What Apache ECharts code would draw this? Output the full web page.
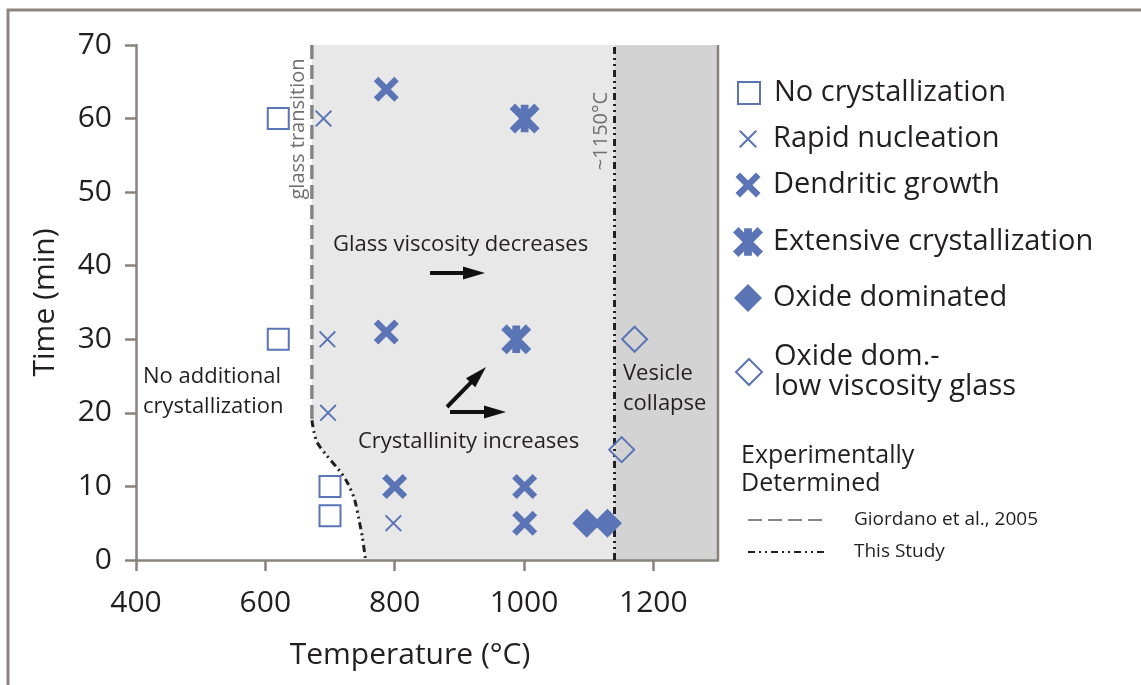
<!DOCTYPE html>
<html><head><meta charset="utf-8">
<script src="https://cdn.jsdelivr.net/npm/echarts@6/dist/echarts.min.js"></script>
<style>html,body{margin:0;padding:0;background:#fff}#c{width:1141px;height:685px}</style>
</head><body><div id="c"></div>
<script>
// ---- data ----
const xTicks = [400, 600, 800, 1000, 1200];
const noCrystallization = [[620, 60], [620, 30], [700, 10], [700, 6]];
const rapidNucleation = [[690, 60], [696, 30], [697, 20], [798, 5]];
const dendriticGrowth = [[787, 64], [787, 31], [800, 10], [1001, 10], [1001, 5]];
const extensiveCrystallization = [[1001, 60], [988, 30]];
const oxideDominated = [[1097, 5], [1129, 5]];
const oxideLowViscosity = [[1171, 30], [1151, 15]];
const giordanoLine = [[672, 70], [672, 19]];
const thisStudyCurve = [[672, 19], [675, 17.5], [680, 16], [694, 14.3], [714, 12.2], [727, 10.5], [738, 8.2], [745, 5.4], [750, 3.1], [755, 0]];
const thisStudyVertical = [[1140, 0], [1140, 70]];
const tempMin = 400, tempMax = 1300, timeMin = 0, timeMax = 70;

// ---- styles ----
const FONT = '"Open Sans", "Noto Sans", sans-serif';
const TXT = '#231f20';
const AX = '#8a837c';
const BLUE = '#5b74b6';
const squareSym = 'path://M0,0L100,0L100,100L0,100Z';
const diamondSym = 'path://M50,0L100,50L50,100L0,50Z';
const thinX = 'path://M8,0L50,42L92,0L100,8L58,50L100,92L92,100L50,58L8,100L0,92L42,50L0,8Z';
const thickX = 'path://M18,0L50,32L82,0L100,18L68,50L100,82L82,100L50,68L18,100L0,82L32,50L0,18Z';
const starX = 'path://M18,0L50,32L82,0L100,18L68,50L100,82L82,100L50,68L18,100L0,82L32,50L0,18Z M37,4L63,4L63,96L37,96Z';

const chart = echarts.init(document.getElementById('c'));

function shading(params, api) {
  const pts = [];
  pts.push(api.coord([giordanoLine[0][0], timeMax]));
  pts.push(api.coord([thisStudyVertical[0][0], timeMax]));
  pts.push(api.coord([thisStudyVertical[0][0], timeMin]));
  for (let i = thisStudyCurve.length - 1; i >= 0; i--) pts.push(api.coord(thisStudyCurve[i]));
  const a = api.coord([thisStudyVertical[0][0], timeMin]);
  const b = api.coord([tempMax, timeMax]);
  return {
    type: 'group',
    children: [
      { type: 'polygon', shape: { points: pts }, style: { fill: '#e8e8e8' } },
      { type: 'rect', shape: { x: a[0], y: b[1], width: b[0] - a[0], height: a[1] - b[1] }, style: { fill: '#d3d3d3' } },
      { type: 'line', shape: { x1: b[0], y1: b[1], x2: b[0], y2: a[1] }, style: { stroke: AX, lineWidth: 2.5 } }
    ]
  };
}

function scatter(name, data, symbol, size, filled) {
  return {
    name, type: 'scatter', data, symbol, symbolSize: size, symbolKeepAspect: true, z: 5,
    itemStyle: filled ? { color: BLUE, opacity: 1 } : { color: 'transparent', borderColor: BLUE, borderWidth: 2, opacity: 1 },
    emphasis: { disabled: true }
  };
}

// icon centre at x=748, text starting at x=773
function symLegend(name, top, h) {
  return {
    data: [name], left: 748 - h / 2, top, orient: 'vertical', padding: 0,
    itemWidth: h, itemHeight: h, selectedMode: false,
    textStyle: { fontSize: 29, color: TXT, fontFamily: FONT, lineHeight: 30, padding: [0, 0, 0, 20 - h / 2] }
  };
}

function arrow(x1, y1, x2, y2) {
  const dx = x2 - x1, dy = y2 - y1, L = Math.hypot(dx, dy);
  const ux = dx / L, uy = dy / L, nx = -uy, ny = ux;
  const hl = 22, hw = 6.5;
  const bx = x2 - ux * hl, by = y2 - uy * hl;
  return [
    { type: 'line', z: 100, shape: { x1, y1, x2: bx + ux * 2, y2: by + uy * 2 }, style: { stroke: '#111', lineWidth: 4 } },
    { type: 'polygon', z: 100, shape: { points: [[x2, y2], [bx + nx * hw, by + ny * hw], [bx - nx * hw, by - ny * hw]] }, style: { fill: '#111' } }
  ];
}

function txt(text, x, y, opts) {
  return Object.assign({
    type: 'text', x, y, z: 100,
    style: { text, font: '22px ' + FONT, fill: TXT, textAlign: 'left', textVerticalAlign: 'middle', lineHeight: 30 }
  }, opts || {});
}

const option = {
  animation: false,
  backgroundColor: '#fff',
  textStyle: { fontFamily: FONT },
  grid: { left: 136, right: 423, top: 45, bottom: 125, containLabel: false },
  xAxis: {
    type: 'value', min: tempMin, max: tempMax, interval: 200,
    name: 'Temperature (°C)', nameLocation: 'middle', nameGap: 80,
    nameTextStyle: { fontSize: 30, color: TXT, fontFamily: FONT, padding: [0, 34, 0, 0] },
    axisLine: { show: true, lineStyle: { color: AX, width: 2.5 } },
    axisTick: { show: true, length: 11, lineStyle: { color: AX, width: 2.5 }, customValues: xTicks },
    axisLabel: { fontSize: 30, color: TXT, margin: 28, fontFamily: FONT, customValues: xTicks, formatter: v => String(v) },
    splitLine: { show: false }
  },
  yAxis: {
    type: 'value', min: timeMin, max: timeMax, interval: 10,
    name: 'Time (min)', nameLocation: 'middle', nameGap: 76,
    nameTextStyle: { fontSize: 30, color: TXT, fontFamily: FONT },
    axisLine: { show: true, lineStyle: { color: AX, width: 2.5 } },
    axisTick: { show: true, length: 11, lineStyle: { color: AX, width: 2.5 } },
    axisLabel: { fontSize: 30, color: TXT, margin: 24, fontFamily: FONT },
    splitLine: { show: false }
  },
  legend: [
    symLegend('No crystallization', 78, 22),
    symLegend('Rapid nucleation', 124, 18),
    symLegend('Dendritic growth', 170, 25),
    symLegend('Extensive crystallization', 227, 30),
    symLegend('Oxide dominated', 283, 28),
    symLegend('Oxide dom.-\nlow viscosity glass', 342, 26),
    {
      data: ['Giordano et al., 2005', 'This Study'], left: 747, top: 509, orient: 'vertical', padding: 0,
      itemWidth: 80, itemHeight: 14, itemGap: 10, selectedMode: false,
      itemStyle: { opacity: 0 },
      textStyle: { fontSize: 19, color: TXT, fontFamily: FONT, lineHeight: 22, padding: [0, 0, 0, 21] }
    }
  ],
  graphic: [
    { type: 'rect', z: -10, shape: { x: 8, y: 10, width: 1300, height: 1000 }, style: { fill: 'none', stroke: '#8c857e', lineWidth: 3 } },
    txt('glass transition', 298, 129, { rotation: Math.PI / 2, style: { text: 'glass transition', font: '20px ' + FONT, fill: '#6f6f6f', textAlign: 'center', textVerticalAlign: 'middle' } }),
    txt('~1150°C', 601, 131, { rotation: Math.PI / 2, style: { text: '~1150°C', font: '20px ' + FONT, fill: '#6f6f6f', textAlign: 'center', textVerticalAlign: 'middle' } }),
    txt('Glass viscosity decreases', 333, 245),
    txt('No additional\ncrystallization', 143, 392),
    txt('Crystallinity increases', 358, 442),
    txt('Vesicle\ncollapse', 623, 389),
    txt('Experimentally\nDetermined', 741, 470, { style: { text: 'Experimentally\nDetermined', font: '25px ' + FONT, fill: TXT, textAlign: 'left', textVerticalAlign: 'middle', lineHeight: 28 } })
  ].concat(arrow(430, 273, 485, 273), arrow(447, 407, 486, 367), arrow(450, 412, 506, 412)),
  series: [
    { type: 'custom', coordinateSystem: 'cartesian2d', renderItem: shading, data: [[thisStudyVertical[0][0], timeMin]], silent: true, z: 0 },
    { name: 'Giordano et al., 2005', type: 'line', data: giordanoLine, symbol: 'none', z: 2, silent: true,
      lineStyle: { color: '#858585', width: 3.5, type: [14, 6] } },
    { name: 'This Study', type: 'line', data: thisStudyVertical, symbol: 'none', z: 2, silent: true,
      lineStyle: { color: TXT, width: 3, type: [7, 4, 2, 4, 2, 4] } },
    { name: 'This Study', type: 'line', data: thisStudyCurve, symbol: 'none', z: 2, silent: true, smooth: 0.3,
      lineStyle: { color: TXT, width: 3, type: [7, 4, 2, 4, 2, 4] } },
    scatter('No crystallization', noCrystallization, squareSym, 21, false),
    scatter('Rapid nucleation', rapidNucleation, thinX, 17, true),
    scatter('Dendritic growth', dendriticGrowth, thickX, 25, true),
    scatter('Extensive crystallization', extensiveCrystallization, starX, 30, true),
    scatter('Oxide dominated', oxideDominated, diamondSym, 29, true),
    scatter('Oxide dom.-\nlow viscosity glass', oxideLowViscosity, diamondSym, 25, false)
  ]
};
chart.setOption(option);
</script></body></html>
